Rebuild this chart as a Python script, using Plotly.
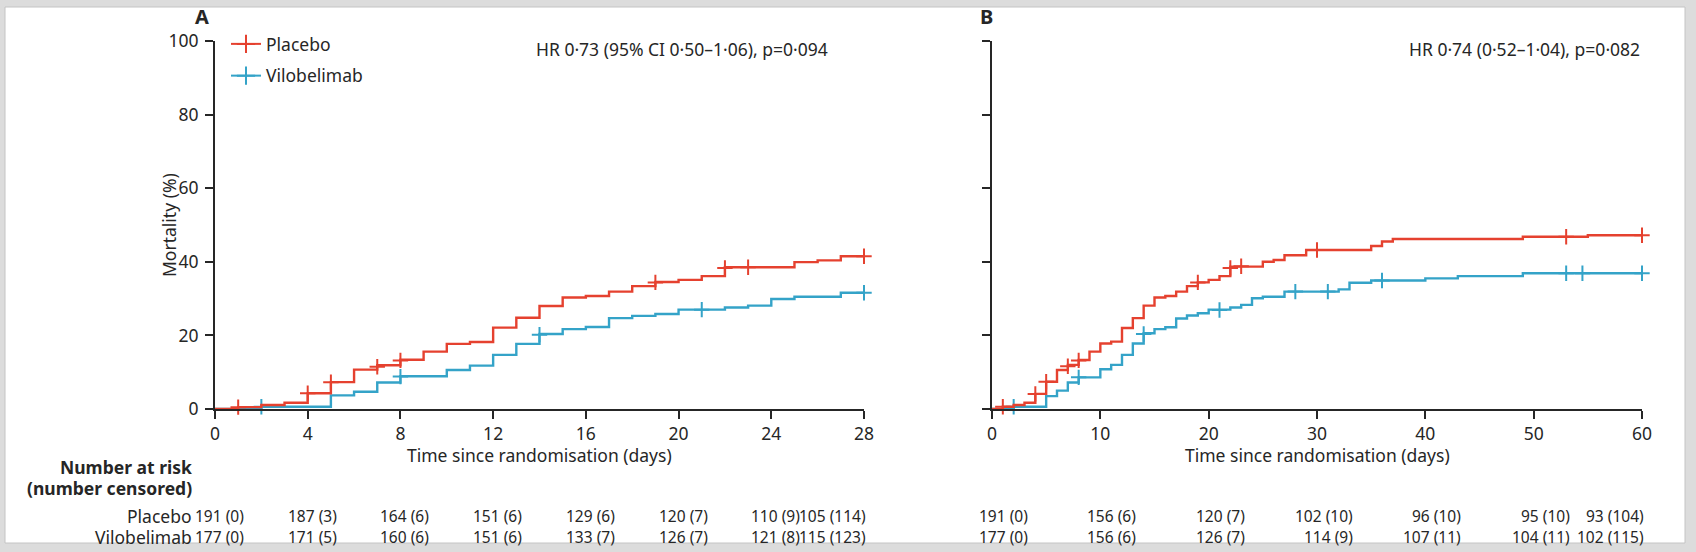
import plotly.graph_objects as go

# Kaplan-Meier mortality (%), day -> cumulative mortality
# panel A: day 28
placebo_a_days = [0, 1, 2, 3, 4, 5, 6, 7, 8, 9, 10, 11, 12, 13, 14, 15, 16, 17, 18, 19, 20, 21, 22, 25, 26, 27, 28]
placebo_a_pct = [0, 0.5, 1.1, 1.7, 4.3, 7.3, 10.7, 11.9, 13.4, 15.6, 17.7, 18.2, 22.1, 24.8, 28.0, 30.3, 30.7, 31.9,
                 33.4, 34.5, 35.1, 36.1, 38.5, 39.9, 40.4, 41.5, 41.5]
placebo_a_cens_days = [1, 4, 5, 7, 8, 19, 22, 23, 28]
placebo_a_cens_pct = [0.5, 4.3, 7.3, 11.5, 13.2, 34.4, 38.3, 38.5, 41.5]

vilo_a_days = [0, 2, 5, 6, 7, 8, 10, 11, 12, 13, 14, 15, 16, 17, 18, 19, 20, 22, 23, 24, 25, 27, 28]
vilo_a_pct = [0, 0.6, 3.7, 4.7, 7.2, 8.9, 10.6, 11.8, 14.7, 17.7, 20.4, 21.7, 22.3, 24.7, 25.3, 25.8, 27.0, 27.6,
              28.1, 29.9, 30.5, 31.6, 31.6]
vilo_a_cens_days = [1, 2, 8, 14, 21, 28]
vilo_a_cens_pct = [-1.2, 0.6, 8.8, 20.2, 27.0, 31.6]

# panel B: day 60
placebo_b_days = [0, 1, 2, 3, 4, 5, 6, 7, 8, 9, 10, 11, 12, 13, 14, 15, 16, 17, 18, 19, 20, 21, 22, 25, 26, 27,
                  29, 35, 36, 37, 49, 55, 60]
placebo_b_pct = [0, 0.6, 1.1, 1.7, 4.1, 7.4, 10.6, 12.0, 13.3, 15.6, 17.8, 18.3, 22.0, 24.7, 28.1, 30.3, 30.7, 31.9,
                 33.4, 34.4, 35.1, 36.1, 38.7, 40.0, 40.5, 41.8, 43.2, 44.3, 45.5, 46.2, 46.8, 47.2, 47.2]
placebo_b_cens_days = [1, 4, 5, 7, 8, 19, 22, 23, 30, 53, 60]
placebo_b_cens_pct = [0.6, 4.1, 7.4, 11.6, 13.2, 34.4, 38.3, 38.8, 43.2, 46.8, 47.2]

vilo_b_days = [0, 2, 5, 6, 7, 8, 10, 11, 12, 13, 14, 15, 16, 17, 18, 19, 20, 22, 23, 24, 25, 27, 32, 33, 35, 40,
               43, 49, 60]
vilo_b_pct = [0, 0.6, 3.5, 5.0, 7.2, 8.6, 10.8, 12.0, 14.7, 17.8, 20.6, 21.7, 22.2, 24.6, 25.4, 26.0, 27.0, 27.6,
              28.3, 30.1, 30.5, 31.9, 32.5, 34.3, 34.9, 35.5, 36.1, 36.9, 36.9]
vilo_b_cens_days = [1, 2, 8, 14, 21, 28, 31, 36, 53, 54.5, 60]
vilo_b_cens_pct = [-0.4, 0.6, 8.6, 20.4, 26.9, 31.9, 31.9, 34.9, 36.9, 36.9, 36.9]

# number at risk (number censored)
risk_a_days = [0, 4, 8, 12, 16, 20, 24, 28]
placebo_a_risk = [191, 187, 164, 151, 129, 120, 110, 105]
placebo_a_censored = [0, 3, 6, 6, 6, 7, 9, 114]
vilo_a_risk = [177, 171, 160, 151, 133, 126, 121, 115]
vilo_a_censored = [0, 5, 6, 6, 7, 7, 8, 123]

risk_b_days = [0, 10, 20, 30, 40, 50, 60]
placebo_b_risk = [191, 156, 120, 102, 96, 95, 93]
placebo_b_censored = [0, 6, 7, 10, 10, 10, 104]
vilo_b_risk = [177, 156, 126, 114, 107, 104, 102]
vilo_b_censored = [0, 6, 7, 9, 11, 11, 115]

y_ticks = [0, 20, 40, 60, 80, 100]

RED = "#e5412f"
BLUE = "#34a3c8"
INK = "#262626"
FONT = "Noto Sans"
FS = 17.5
W, H = 1696, 552


def px(x):
    return x / W


def py(y):
    return 1 - y / H


def label(text, x, y, xanchor="center", **kw):
    # paper-placed text, anchors given explicitly (auto anchors shift things)
    d = dict(text=text, x=px(x), y=py(y), xref="paper", yref="paper", xanchor=xanchor, yanchor="middle",
             showarrow=False, font=dict(size=FS))
    d.update(kw)
    return d


fig = go.Figure()

panels = [
    ("x", "y", placebo_a_days, placebo_a_pct, placebo_a_cens_days, placebo_a_cens_pct,
     vilo_a_days, vilo_a_pct, vilo_a_cens_days, vilo_a_cens_pct),
    ("x2", "y2", placebo_b_days, placebo_b_pct, placebo_b_cens_days, placebo_b_cens_pct,
     vilo_b_days, vilo_b_pct, vilo_b_cens_days, vilo_b_cens_pct),
]
for xa, ya, pd_, pp, pcd, pcp, vd, vp, vcd, vcp in panels:
    for d, p, cd, cp, col in [(vd, vp, vcd, vcp, BLUE), (pd_, pp, pcd, pcp, RED)]:
        fig.add_trace(go.Scatter(x=d, y=p, mode="lines", line=dict(color=col, width=2.4, shape="hv"),
                                 xaxis=xa, yaxis=ya, showlegend=False, hoverinfo="skip"))
        fig.add_trace(go.Scatter(x=cd, y=cp, mode="markers", cliponaxis=False,
                                 marker=dict(symbol="cross-thin", size=11, color=col, line=dict(color=col, width=2)),
                                 xaxis=xa, yaxis=ya, showlegend=False, hoverinfo="skip"))

# legend entries
for name, col in [("Placebo", RED), ("Vilobelimab", BLUE)]:
    fig.add_trace(go.Scatter(x=[None], y=[None], mode="lines+markers", name=name, legendgroup=name,
                             line=dict(color=col, width=2),
                             marker=dict(symbol="cross-thin", size=13, color=col, line=dict(color=col, width=2))))

axis_common = dict(showline=True, linecolor=INK, linewidth=2, ticks="outside", ticklen=8, tickwidth=2,
                   tickcolor=INK, showgrid=False, zeroline=False, automargin=False,
                   tickfont=dict(family=FONT, size=FS, color=INK))

fig.update_layout(
    width=W, height=H,
    margin=dict(l=0, r=0, t=0, b=0, autoexpand=False),
    paper_bgcolor="#dcdcdc",
    plot_bgcolor="white",
    font=dict(family=FONT, size=FS, color=INK),
    xaxis=dict(domain=[px(215), px(864)], range=[0, 28], tickvals=risk_a_days, anchor="y", **axis_common),
    yaxis=dict(domain=[py(409), py(41)], range=[0, 100], tickvals=y_ticks, anchor="x",
               ticklabelstandoff=3, **axis_common),
    xaxis2=dict(domain=[px(992), px(1642)], range=[0, 60], tickvals=risk_b_days, anchor="y2", **axis_common),
    yaxis2=dict(domain=[py(409), py(41)], range=[0, 100], tickvals=y_ticks, showticklabels=False, anchor="x2",
                **axis_common),
    legend=dict(x=px(226), y=py(26), xanchor="left", yanchor="top", bgcolor="rgba(0,0,0,0)",
                font=dict(family=FONT, size=FS, color=INK), tracegroupgap=6),
    shapes=[dict(type="rect", xref="paper", yref="paper", x0=px(5), x1=px(1685), y0=py(543), y1=py(7),
                 fillcolor="white", line=dict(color="#c4c4c4", width=1), layer="below")],
)

ann = [
    label("<b>A</b>", 202, 16, font=dict(size=20)),
    label("<b>B</b>", 986, 16, font=dict(size=20)),
    label("Mortality (%)", 169, 225, textangle=-90),
    label("HR 0·73 (95% CI 0·50–1·06), p=0·094", 830, 49, xanchor="right"),
    label("HR 0·74 (0·52–1·04), p=0·082", 1642, 49, xanchor="right"),
    label("Time since randomisation (days)", (215 + 864) / 2, 455),
    label("Time since randomisation (days)", (992 + 1642) / 2, 455),
    # number at risk table
    label("<b>Number at risk</b>", 194, 467, xanchor="right"),
    label("<b>(number censored)</b>", 194, 488, xanchor="right"),
    label("Placebo", 194, 516, xanchor="right"),
    label("Vilobelimab", 194, 537, xanchor="right"),
]

# values sit right-aligned just past each tick; the last column ends at the axis end
rows = [
    ("x", risk_a_days, placebo_a_risk, placebo_a_censored, 516, 31),
    ("x", risk_a_days, vilo_a_risk, vilo_a_censored, 537, 31),
    ("x2", risk_b_days, placebo_b_risk, placebo_b_censored, 516, 38),
    ("x2", risk_b_days, vilo_b_risk, vilo_b_censored, 537, 38),
]
for xr, days, n, c, ypix, shift in rows:
    for i, (d, ni, ci) in enumerate(zip(days, n, c)):
        last = i == len(days) - 1
        ann.append(dict(text=f"{ni} ({ci})", x=d, xref=xr, y=py(ypix), yref="paper",
                        xshift=4 if last else shift, xanchor="right", yanchor="middle",
                        showarrow=False, font=dict(size=15.5)))

fig.update_layout(annotations=ann)

fig.write_html("out.html", config={"displayModeBar": False},
               post_script="document.body.style.margin='0px';")
